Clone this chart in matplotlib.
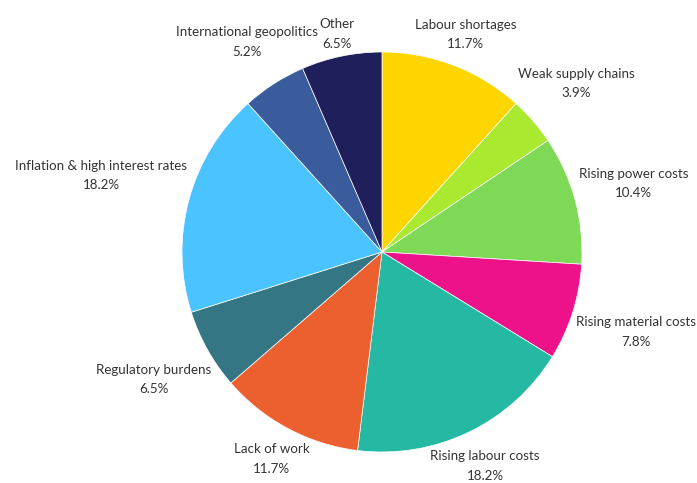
import numpy as np
import matplotlib.pyplot as plt

labels = [
    "Labour shortages",
    "Weak supply chains",
    "Rising power costs",
    "Rising material costs",
    "Rising labour costs",
    "Lack of work",
    "Regulatory burdens",
    "Inflation & high interest rates",
    "International geopolitics",
    "Other",
]
shares = [11.7, 3.9, 10.4, 7.8, 18.2, 11.7, 6.5, 18.2, 5.2, 6.5]
colors = [
    "#FFD500", "#A9E92F", "#7ED957", "#EE128A", "#25B9A4",
    "#EB602E", "#357684", "#4AC3FF", "#3B5C9C", "#1F1F5C",
]

W, H = 697, 483
cx, cy, R = 382, 231, 200
PAD = 4

plt.rcParams["font.family"] = ["Lato", "DejaVu Sans"]

fig = plt.figure(figsize=(W / 100, H / 100), dpi=100)
ax = fig.add_axes([0, 0, 1, 1])

wedges, _ = ax.pie(
    shares, colors=colors, startangle=90, counterclock=False,
    center=(cx, cy), radius=R,
    wedgeprops=dict(edgecolor="white", linewidth=0.5),
)
# pie() resets the limits, so work in pixel units afterwards
ax.set_xlim(0, W)
ax.set_ylim(0, H)
ax.set_aspect("equal")
ax.axis("off")

renderer = fig.canvas.get_renderer()
for w, lab, val in zip(wedges, labels, shares):
    mid = np.deg2rad((w.theta1 + w.theta2) / 2)
    ux, uy = np.cos(mid), np.sin(mid)
    t = ax.text(cx, cy, f"{lab}\n{val:.1f}%", ha="center", va="center",
                fontsize=9.6, color="#333333", linespacing=1.75)
    bb = t.get_window_extent(renderer)
    hw, hh = bb.width / 2, bb.height / 2
    # push the label out along the slice's mid line until its box clears the pie
    r = R
    while True:
        x, y = cx + r * ux, cy + r * uy
        nx = np.clip(cx, x - hw, x + hw)
        ny = np.clip(cy, y - hh, y + hh)
        if np.hypot(nx - cx, ny - cy) >= R + PAD:
            break
        r += 0.5
    t.set_position((x, y))

fig.savefig("out.png", dpi=100, facecolor="white")
